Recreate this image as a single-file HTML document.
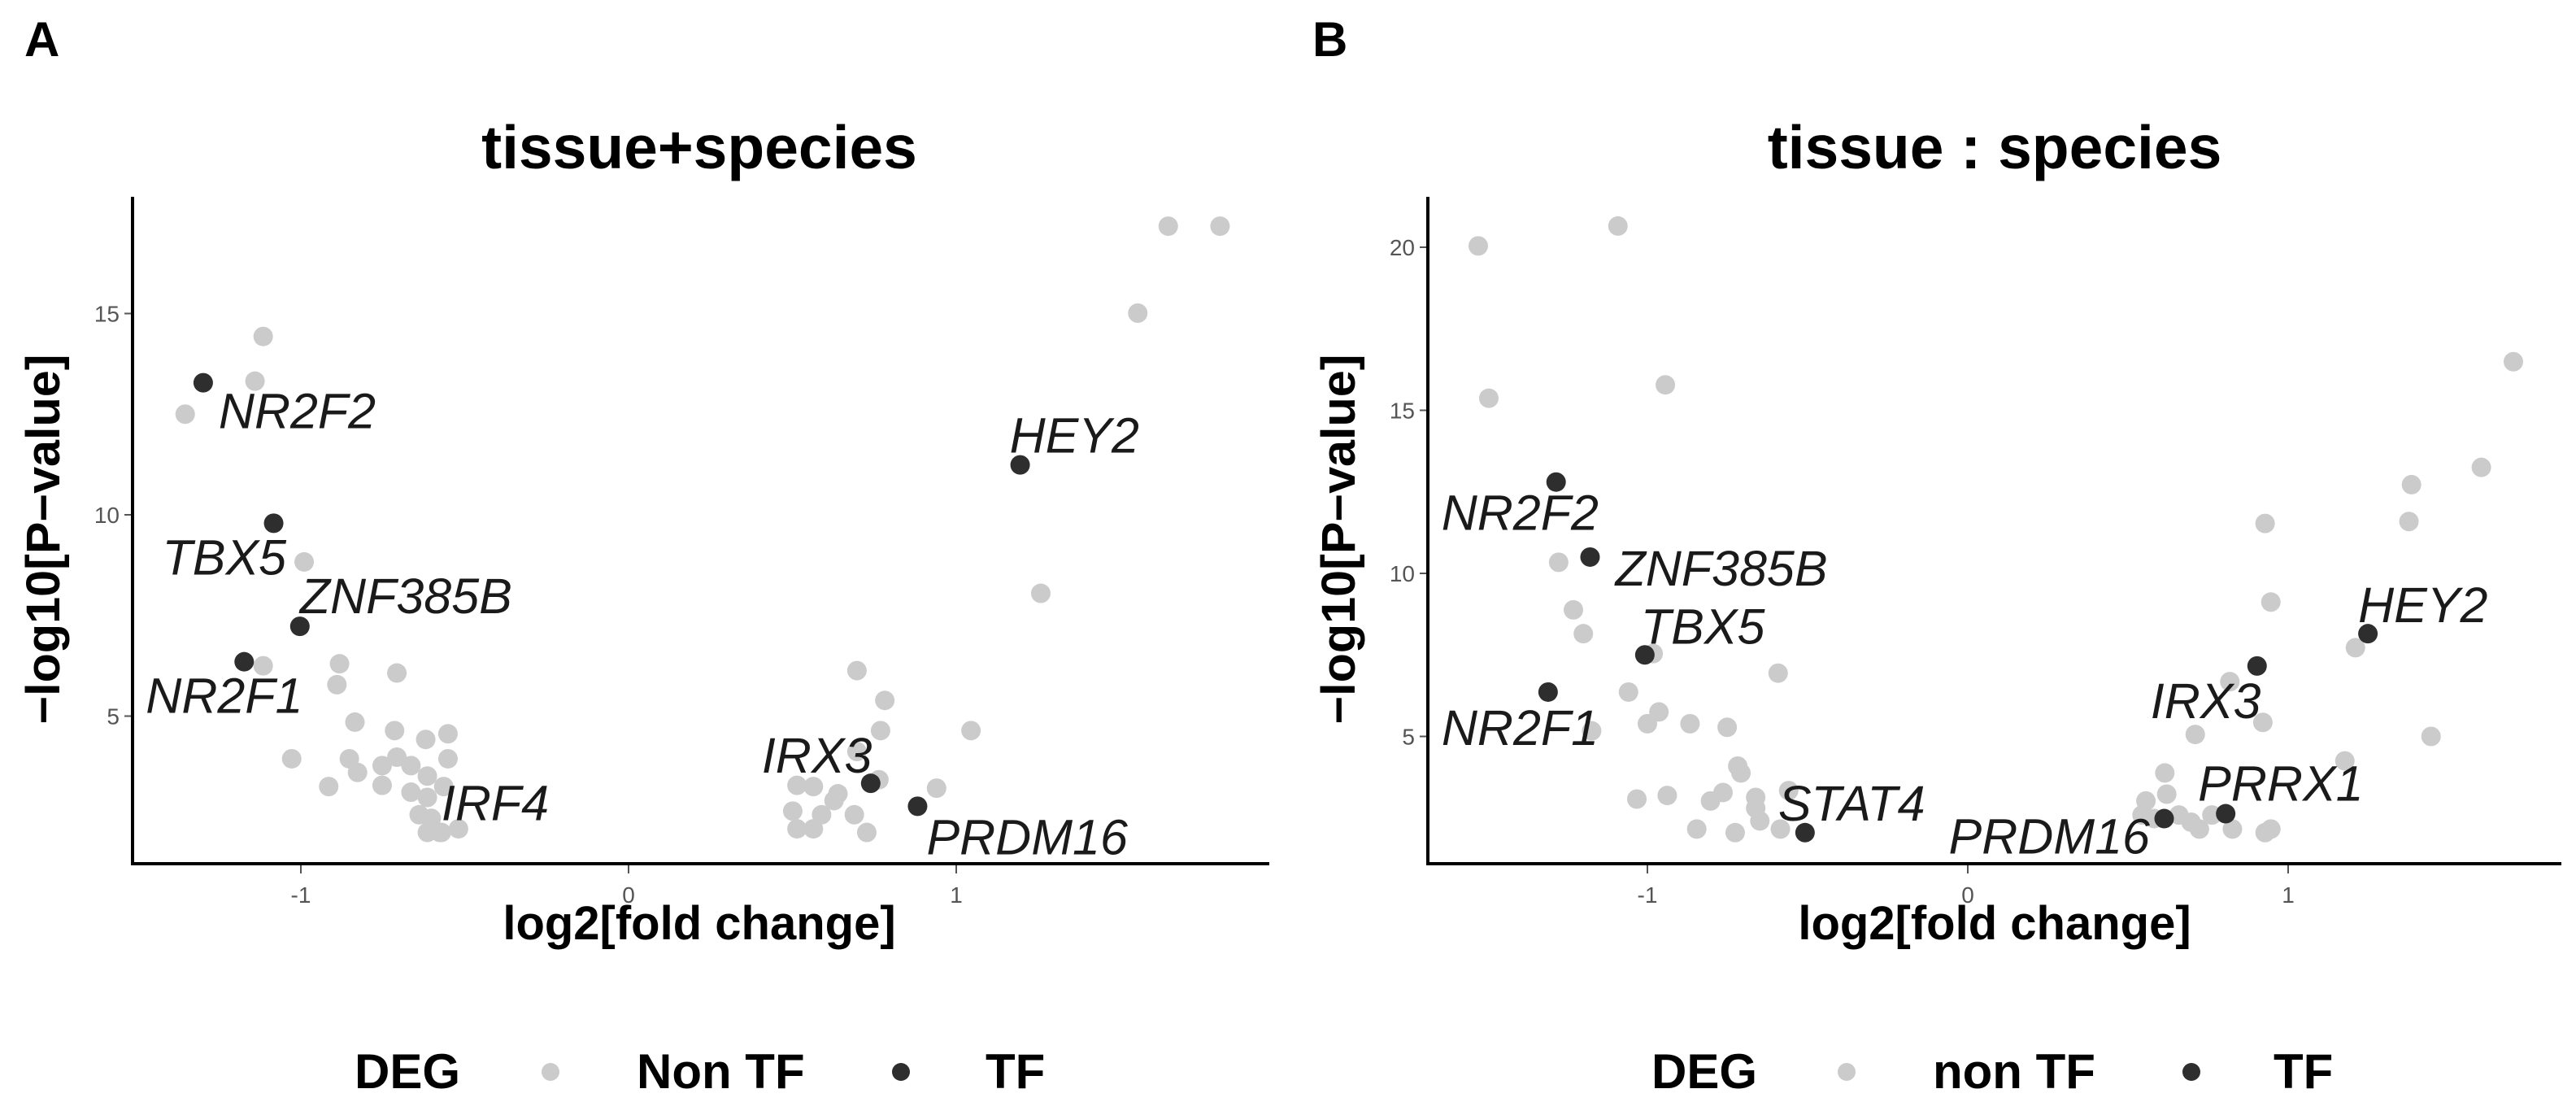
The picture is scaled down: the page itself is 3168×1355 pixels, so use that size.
<!DOCTYPE html>
<html><head><meta charset="utf-8"><style>
html,body{margin:0;padding:0;background:#fff;}
svg{display:block;}
text{font-family:"Liberation Sans",Arial,sans-serif;}
</style></head><body>
<svg id="fig" width="3168" height="1355" viewBox="0 0 3168 1355" xmlns="http://www.w3.org/2000/svg"></svg>
<script>
// ---------- Panel A data (tissue+species) ----------
const aNonX = [1.647,1.805,1.554,1.258,1.045,-1.115,-1.140,-1.353,-0.990,-1.115,-0.882,-0.890,-0.707,-0.835,-0.714,-0.619,-0.551,-1.028,-0.852,-0.752,-0.707,-0.664,-0.614,-0.551,-0.915,-0.827,-0.752,-0.664,-0.614,-0.564,-0.639,-0.602,-0.614,-0.576,-0.519,0.697,0.782,0.769,0.697,0.764,0.940,0.514,0.564,0.501,0.589,0.627,0.689,0.514,0.564,0.727,0.639,-0.571];
const aNonY = [17.17,17.17,15.01,8.05,4.64,14.43,13.32,12.50,8.83,6.25,6.30,5.78,6.07,4.85,4.64,4.42,4.56,3.94,3.94,3.77,3.98,3.77,3.51,3.94,3.25,3.60,3.28,3.11,2.98,3.25,2.55,2.46,2.11,2.11,2.20,6.13,5.39,4.64,4.12,3.42,3.21,3.28,3.25,2.64,2.55,2.90,2.55,2.20,2.20,2.11,3.07,2.11];
const aTfNames = ["NR2F2","TBX5","ZNF385B","NR2F1","HEY2","IRX3","PRDM16"];
const aTfX = [-1.298,-1.083,-1.003,-1.173,1.195,0.739,0.882];
const aTfY = [13.28,9.79,7.23,6.35,11.24,3.33,2.76];
const aLabelNames = ["NR2F2","TBX5","ZNF385B","NR2F1","HEY2","IRX3","PRDM16","IRF4"];
const aLabelX = [-1.298,-1.083,-1.003,-1.173,1.195,0.739,0.882,-0.571];
const aLabelY = [13.28,9.79,7.23,6.35,11.24,3.33,2.76,2.11];
const aLabelDx = [19,-137,0,-121,-13,-134,11,0];
const aLabelDy = [56,63,-16,63,-15,-13,59,-15];
const aXTicks = [-1,0,1];
const aYTicks = [5,10,15];

// ---------- Panel B data (tissue : species) ----------
const bNonX = [-1.528,-1.495,-1.092,-0.944,1.703,1.603,1.385,1.377,0.928,0.946,1.210,0.818,0.921,0.710,1.446,1.177,-1.277,-1.231,-1.200,-0.982,-1.059,-0.964,-1.000,-0.867,-0.751,-0.592,-1.174,-0.718,-0.708,-1.033,-0.938,-0.803,-0.764,-0.662,-0.559,-0.846,-0.726,-0.649,-0.585,-0.662,0.615,0.556,0.621,0.582,0.697,0.723,0.762,0.826,0.928,0.946,0.659,0.544];
const bNonY = [20.04,15.37,20.65,15.78,16.49,13.25,12.72,11.59,11.53,9.12,7.72,6.68,5.43,5.06,5.00,4.25,10.34,8.88,8.15,7.54,6.36,5.75,5.39,5.39,5.28,6.94,5.17,4.09,3.88,3.08,3.19,3.02,3.28,3.13,3.34,2.16,2.05,2.41,2.16,2.80,3.88,3.02,3.23,2.48,2.37,2.16,2.59,2.16,2.05,2.16,2.59,2.59];
const bTfNames = ["NR2F2","ZNF385B","TBX5","NR2F1","STAT4","PRDM16","PRRX1","IRX3","HEY2"];
const bTfX = [-1.285,-1.179,-1.008,-1.310,-0.508,0.613,0.805,0.903,1.249];
const bTfY = [12.80,10.50,7.50,6.36,2.05,2.48,2.63,7.16,8.15];
const bLabelDx = [-141,31,-5,-131,-33,-265,-34,-131,-12];
const bLabelDy = [59,35,-14,65,-15,43,-16,64,-14];
const bXTicks = [-1,0,1];
const bYTicks = [5,10,15,20];

const NS = "http://www.w3.org/2000/svg";
const svg = document.getElementById("fig");
function el(tag, attrs, parent, txt){
  const e = document.createElementNS(NS, tag);
  for (const k in attrs) e.setAttribute(k, attrs[k]);
  if (txt !== undefined) e.textContent = txt;
  (parent||svg).appendChild(e);
  return e;
}

function panel(cfg){
  const g = el("g", {});
  
  
  const sx = v => cfg.x0 + cfg.kx * v;
  const sy = v => cfg.y0 - cfg.ky * v;

  const pl = el("text", {x:cfg.letterX, y:69, "font-size":60, "font-weight":"bold", fill:"#000"}, g, cfg.letter);
  
  

  const t = el("text", {x:cfg.cx, y:207, "font-size":75, "font-weight":"bold", "text-anchor":"middle", fill:"#000"}, g, cfg.title);
  
  

  // axes
  const ya = el("line", {x1:cfg.axX, y1:242, x2:cfg.axX, y2:1062, stroke:"#000", "stroke-width":4}, g);
  
  
  const xa = el("line", {x1:cfg.axX-2, y1:1062, x2:cfg.axR, y2:1062, stroke:"#000", "stroke-width":4}, g);
  
  

  cfg.xt.forEach(v => {
    const tk = el("line", {x1:sx(v), y1:1064, x2:sx(v), y2:1074, stroke:"#555", "stroke-width":2}, g);
    
    
    const tl = el("text", {x:sx(v), y:1110, "font-size":28, "text-anchor":"middle", fill:"#555"}, g, String(v));
    
    
  });
  cfg.yt.forEach(v => {
    const tk = el("line", {x1:cfg.axX-10, y1:sy(v), x2:cfg.axX-2, y2:sy(v), stroke:"#555", "stroke-width":2}, g);
    
    
    const tl = el("text", {x:cfg.axX-16, y:sy(v)+10, "font-size":28, "text-anchor":"end", fill:"#555"}, g, String(v));
    
    
  });

  const xl = el("text", {x:cfg.cx, y:1155, "font-size":58, "font-weight":"bold", "text-anchor":"middle", fill:"#000"}, g, "log2[fold change]");
  
  
  const yl = el("text", {x:0, y:0, "font-size":58, "font-weight":"bold", "text-anchor":"middle", fill:"#000",
    transform:"translate("+(cfg.axX-90)+",663) rotate(-90)", textLength:455, lengthAdjust:"spacingAndGlyphs"}, g, "\u2212log10[P\u2212value]");
  
  

  // points
  cfg.nx.forEach((v,i) => {
    const c = el("circle", {cx:sx(v), cy:sy(cfg.ny[i]), r:12, fill:"#cbcbcb"}, g);
    
    
  });
  cfg.tx.forEach((v,i) => {
    const c = el("circle", {cx:sx(v), cy:sy(cfg.ty[i]), r:12, fill:"#2e2e2e"}, g);
    
    
  });
  cfg.ln.forEach((n,i) => {
    const l = el("text", {x:sx(cfg.lx[i]) + cfg.ldx[i], y:sy(cfg.ly[i]) + cfg.ldy[i], "font-size":61, "font-style":"italic", fill:"#1a1a1a"}, g, n);
    
    
  });

  // legend
  const lg = el("g", {}, g);
  
  
  const lt = el("text", {x:cfg.leg[0], y:1338, "font-size":60, "font-weight":"bold", fill:"#000"}, lg, "DEG");
  
  
  const d1 = el("circle", {cx:cfg.leg[1], cy:1318, r:11, fill:"#cbcbcb"}, lg);
  
  
  const t1 = el("text", {x:cfg.leg[2], y:1338, "font-size":60, "font-weight":"bold", fill:"#000"}, lg, cfg.nonLabel);
  
  
  const d2 = el("circle", {cx:cfg.leg[3], cy:1318, r:11, fill:"#2e2e2e"}, lg);
  
  
  const t2 = el("text", {x:cfg.leg[4], y:1338, "font-size":60, "font-weight":"bold", fill:"#000"}, lg, "TF");
  
  
}

panel({name:"panel-a", letter:"A", letterX:30, title:"tissue+species", cx:860,
  x0:773, kx:403, y0:1128, ky:49.5, axX:163, axR:1561,
  xt:aXTicks, yt:aYTicks, nx:aNonX, ny:aNonY, tx:aTfX, ty:aTfY, tn:aTfNames,
  ln:aLabelNames, lx:aLabelX, ly:aLabelY, ldx:aLabelDx, ldy:aLabelDy,
  leg:[436,677,783,1108,1212], nonLabel:"Non TF"});

panel({name:"panel-b", letter:"B", letterX:1614, title:"tissue : species", cx:2453,
  x0:2420, kx:394, y0:1106, ky:40.1, axX:1756, axR:3150,
  xt:bXTicks, yt:bYTicks, nx:bNonX, ny:bNonY, tx:bTfX, ty:bTfY, tn:bTfNames,
  ln:bTfNames, lx:bTfX, ly:bTfY, ldx:bLabelDx, ldy:bLabelDy,
  leg:[2031,2271,2377,2695,2796], nonLabel:"non TF"});
</script>
</body></html>
